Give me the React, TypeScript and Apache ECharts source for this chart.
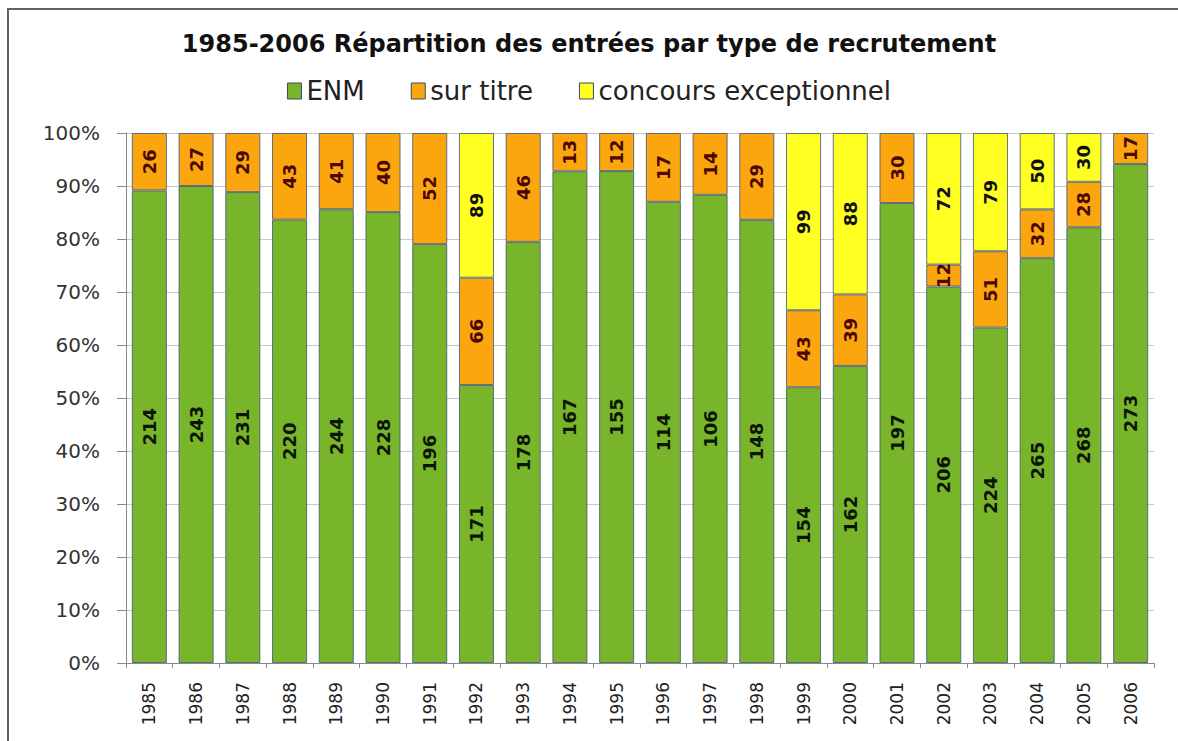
import React, { useEffect, useRef } from "react";
import * as echarts from "echarts";

const years = ["1985","1986","1987","1988","1989","1990","1991","1992","1993","1994","1995","1996","1997","1998","1999","2000","2001","2002","2003","2004","2005","2006"];
const enm = [214,243,231,220,244,228,196,171,178,167,155,114,106,148,154,162,197,206,224,265,268,273];
const surTitre = [26,27,29,43,41,40,52,66,46,13,12,17,14,29,43,39,30,12,51,32,28,17];
const concours: (number | null)[] = [null,null,null,null,null,null,null,89,null,null,null,null,null,null,99,88,null,72,79,50,30,null];
const yTicks = [0,10,20,30,40,50,60,70,80,90,100];

export default function App() {
  const ref = useRef<HTMLDivElement>(null);
  useEffect(() => {
    if (!ref.current) return;
    const chart = echarts.init(ref.current, undefined, { renderer: "svg" });
    const totals = years.map((_, i) => enm[i] + surTitre[i] + (concours[i] ?? 0));
    const pct = (arr: (number | null)[]) => arr.map((v, i) => (v == null ? null : (v / totals[i]) * 100));
    const labelFont = { fontFamily: "DejaVu Sans", fontWeight: "bold" as const, fontSize: 18 };
    const mk = (name: string, raw: (number | null)[], color: string, labelColor: string) => ({
      name,
      type: "bar" as const,
      stack: "total",
      barWidth: "75%",
      data: pct(raw),
      itemStyle: { color, borderColor: "rgba(60,85,120,0.8)", borderWidth: 1 },
      label: {
        show: true,
        position: "inside" as const,
        rotate: 90,
        color: labelColor,
        ...labelFont,
        formatter: (p: any) => (raw[p.dataIndex] == null ? "" : String(raw[p.dataIndex])),
      },
    });
    chart.setOption({
      animation: false,
      backgroundColor: "#ffffff",
      title: {
        text: "1985-2006 Répartition des entrées par type de recrutement",
        left: "center",
        top: 27,
        textStyle: { fontFamily: "DejaVu Sans", fontWeight: "bold", fontSize: 24, color: "#111" },
      },
      legend: {
        top: 73,
        left: "center",
        itemWidth: 14,
        itemHeight: 16,
        itemGap: 46,
        icon: "rect",
        textStyle: { fontFamily: "DejaVu Sans", fontSize: 26, color: "#222" },
        itemStyle: { borderColor: "#3a4a60", borderWidth: 1 },
      },
      grid: { left: 126, right: 24, top: 133, bottom: 78 },
      xAxis: {
        type: "category",
        data: years,
        axisLine: { lineStyle: { color: "#8a8a8a" } },
        axisTick: { show: true, length: 5, lineStyle: { color: "#8a8a8a" } },
        axisLabel: { rotate: 90, fontFamily: "DejaVu Sans", fontSize: 17, color: "#222", margin: 19 },
      },
      yAxis: {
        type: "value",
        min: 0,
        max: 100,
        interval: 10,
        axisLine: { show: true, lineStyle: { color: "#8a8a8a" } },
        axisTick: { show: true, length: 9, lineStyle: { color: "#8a8a8a" } },
        splitLine: { lineStyle: { color: "#c8c8c8" } },
        axisLabel: {
          fontFamily: "DejaVu Sans",
          fontSize: 20,
          color: "#333",
          margin: 26,
          formatter: (v: number) => (yTicks.includes(v) ? v + "%" : ""),
        },
      },
      graphic: [
        {
          type: "rect",
          shape: { x: 8, y: 9, width: 1180, height: 760 },
          style: { fill: "none", stroke: "#6e5f58", lineWidth: 2 },
          silent: true,
        },
      ],
      series: [
        mk("ENM", enm, "#79B52B", "#0c1404"),
        mk("sur titre", surTitre, "#FCA60F", "#4a0800"),
        mk("concours exceptionnel", concours, "#FFFF22", "#111"),
      ],
    });
    return () => chart.dispose();
  }, []);
  return <div ref={ref} style={{ position: "fixed", left: 0, top: 0, width: 1178, height: 741 }} />;
}
